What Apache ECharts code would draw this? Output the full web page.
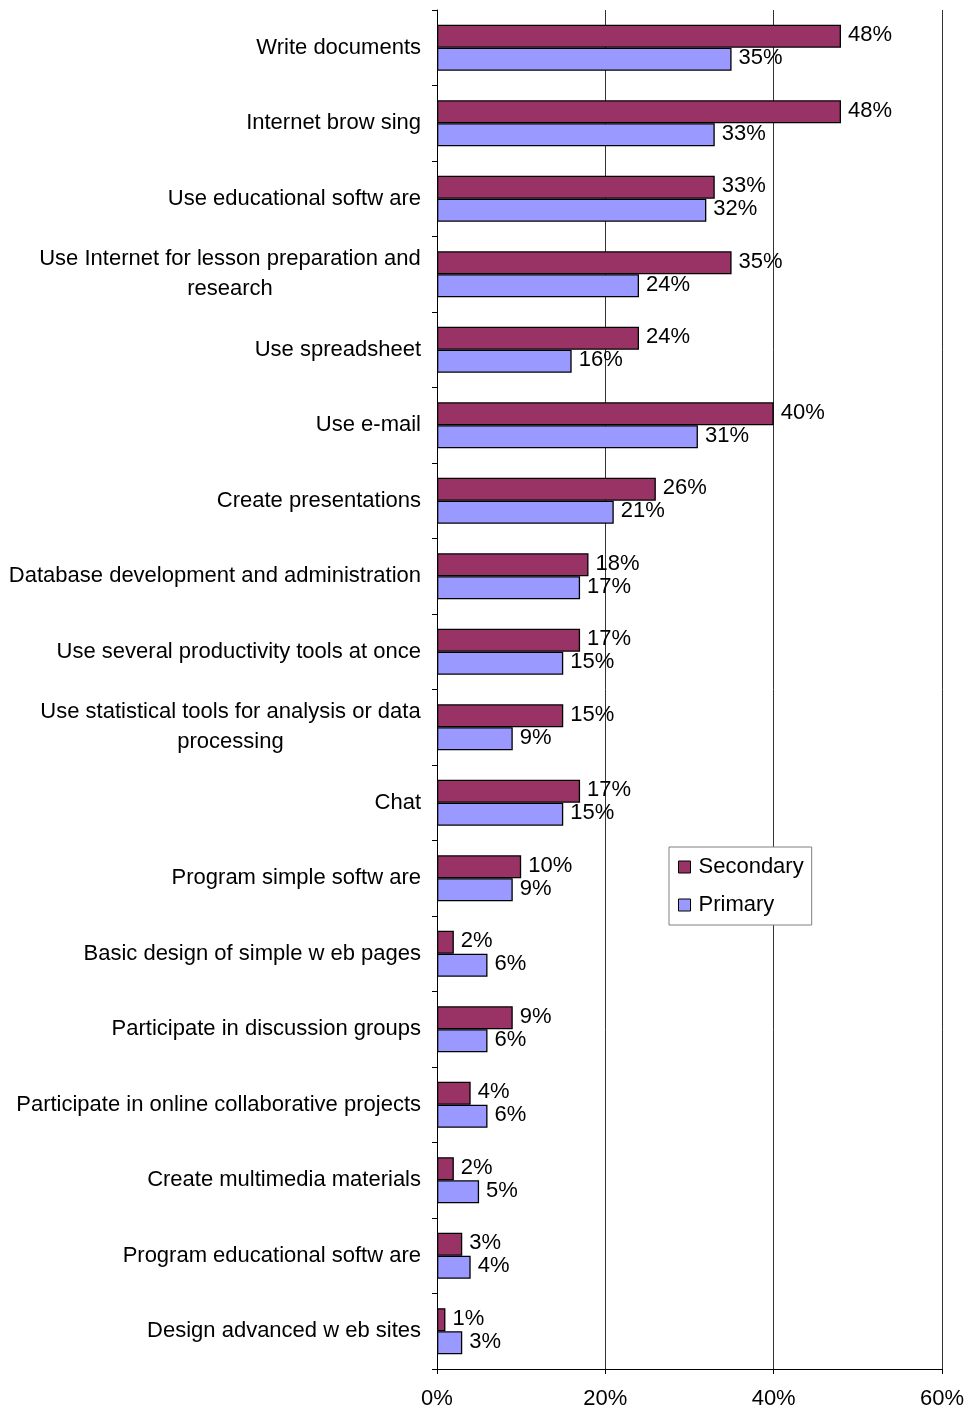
<!DOCTYPE html>
<html>
<head>
<meta charset="utf-8">
<script src="https://cdn.jsdelivr.net/npm/echarts@6/dist/echarts.min.js"></script>
<style>
  html, body { margin: 0; padding: 0; background: #fff; }
  #chart { width: 967px; height: 1414px; }
</style>
</head>
<body>
<div id="chart"></div>
<script>
// ICT activities by school level, percentages
const categories = [
  'Write documents',
  'Internet brow sing',
  'Use educational softw are',
  'Use Internet for lesson preparation and\nresearch',
  'Use spreadsheet',
  'Use e-mail',
  'Create presentations',
  'Database development and administration',
  'Use several productivity tools at once',
  'Use statistical tools for analysis or data\nprocessing',
  'Chat',
  'Program simple softw are',
  'Basic design of simple w eb pages',
  'Participate in discussion groups',
  'Participate in online collaborative projects',
  'Create multimedia materials',
  'Program educational softw are',
  'Design advanced w eb sites'
];
const secondary = [48, 48, 33, 35, 24, 40, 26, 18, 17, 15, 17, 10, 2, 9, 4, 2, 3, 1];
const primary   = [35, 33, 32, 24, 16, 31, 21, 17, 15, 9, 15, 9, 6, 6, 6, 5, 4, 3];
const xTicks = [0, 20, 40, 60];

const FONT = 'Liberation Sans, Arial, sans-serif';
const FS = 22;

// Multi-line category labels are centred line-by-line inside a box as wide as the longest line
const ctx = document.createElement('canvas').getContext('2d');
ctx.font = FS + 'px ' + FONT;
const rich = { s: { fontSize: FS, fontFamily: FONT, color: '#000', lineHeight: 30 } };
const labelKey = {};
categories.forEach((c, i) => {
  if (c.indexOf('\n') >= 0) {
    const w = Math.ceil(Math.max(...c.split('\n').map(l => ctx.measureText(l).width)));
    rich['m' + i] = { fontSize: FS, fontFamily: FONT, color: '#000', width: w, align: 'center', lineHeight: 30 };
    labelKey[c] = 'm' + i;
  } else {
    labelKey[c] = 's';
  }
});

const chart = echarts.init(document.getElementById('chart'), null, { renderer: 'canvas' });

const barLabel = {
  show: true,
  position: 'right',
  distance: 7,
  offset: [0, -1],
  formatter: p => p.value + '%',
  fontSize: FS,
  fontFamily: FONT,
  color: '#000'
};

chart.setOption({
  animation: false,
  backgroundColor: '#fff',
  grid: { left: 437, right: 25, top: 10, bottom: 45, containLabel: false },
  legend: {
    orient: 'vertical',
    left: 669,
    top: 847,
    padding: [9, 8, 9, 9],
    itemGap: 16,
    itemWidth: 12,
    itemHeight: 12,
    icon: 'rect',
    borderColor: '#808080',
    borderWidth: 1,
    backgroundColor: '#fff',
    textStyle: { fontSize: FS, fontFamily: FONT, color: '#000', padding: [0, 0, 0, 3] },
    itemStyle: { borderColor: '#000', borderWidth: 1 },
    data: ['Secondary', 'Primary']
  },
  xAxis: {
    type: 'value',
    min: xTicks[0],
    max: xTicks[xTicks.length - 1],
    interval: xTicks[1] - xTicks[0],
    axisLine: { show: true, lineStyle: { color: '#000', width: 1 } },
    axisTick: { show: true, length: 5, lineStyle: { color: '#000' } },
    axisLabel: { formatter: '{value}%', fontSize: FS, fontFamily: FONT, color: '#000', margin: 19 },
    splitLine: { show: true, lineStyle: { color: '#333', width: 1 } }
  },
  yAxis: {
    type: 'category',
    inverse: true,
    data: categories,
    axisLine: { show: true, lineStyle: { color: '#000', width: 1 } },
    axisTick: { show: true, length: 5, lineStyle: { color: '#000' } },
    axisLabel: {
      margin: 16,
      formatter: v => v.split('\n').map(l => '{' + labelKey[v] + '|' + l + '}').join('\n'),
      rich: rich
    }
  },
  series: [
    {
      name: 'Secondary',
      type: 'bar',
      data: secondary,
      barWidth: 23,
      barGap: '0%',
      itemStyle: { color: '#993366', borderColor: '#000', borderWidth: 1.3 },
      label: barLabel
    },
    {
      name: 'Primary',
      type: 'bar',
      data: primary,
      barWidth: 23,
      barGap: '0%',
      itemStyle: { color: '#9999FF', borderColor: '#000', borderWidth: 1.3 },
      label: barLabel
    }
  ]
});
</script>
</body>
</html>
